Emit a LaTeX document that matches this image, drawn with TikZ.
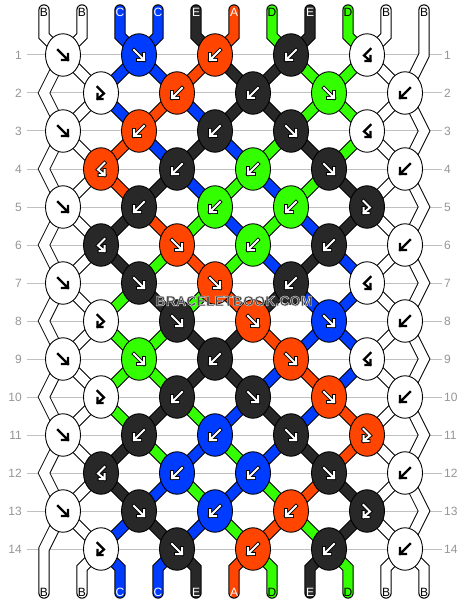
\documentclass[tikz,border=0pt]{standalone}
\usepackage{fontspec}
\setmainfont{Liberation Sans}
\usetikzlibrary{shapes.geometric}
\definecolor{colA}{RGB}{255,69,0}
\definecolor{colB}{RGB}{255,255,255}
\definecolor{colC}{RGB}{0,60,255}
\definecolor{colD}{RGB}{51,255,0}
\definecolor{colE}{RGB}{40,40,40}
\definecolor{labgray}{RGB}{150,150,150}
\definecolor{rulegray}{RGB}{192,192,192}
\definecolor{wmgray}{RGB}{72,72,72}

% string colours after each row
\expandafter\def\csname st1\endcsname{B,B,C,C,A,E,E,D,D,B,B}
\expandafter\def\csname st2\endcsname{B,B,C,A,C,E,E,D,D,B,B}
\expandafter\def\csname st3\endcsname{B,B,A,C,E,C,D,E,D,B,B}
\expandafter\def\csname st4\endcsname{B,B,A,E,C,D,C,D,E,B,B}
\expandafter\def\csname st5\endcsname{B,B,E,A,D,C,D,C,E,B,B}
\expandafter\def\csname st6\endcsname{B,B,E,D,A,D,C,E,C,B,B}
\expandafter\def\csname st7\endcsname{B,B,D,E,D,A,E,C,C,B,B}
\expandafter\def\csname st8\endcsname{B,B,D,D,E,E,A,C,C,B,B}
\expandafter\def\csname st9\endcsname{B,B,D,D,E,E,C,A,C,B,B}
\expandafter\def\csname st10\endcsname{B,B,D,E,D,C,E,C,A,B,B}
\expandafter\def\csname st11\endcsname{B,B,E,D,C,D,C,E,A,B,B}
\expandafter\def\csname st12\endcsname{B,B,E,C,D,C,D,A,E,B,B}
\expandafter\def\csname st13\endcsname{B,B,C,E,C,D,A,D,E,B,B}

% knots: colour / type
\expandafter\def\csname kn1\endcsname{B/f,C/f,A/b,E/b,B/bf}
\expandafter\def\csname kn2\endcsname{B/fb,A/b,E/b,D/f,B/b}
\expandafter\def\csname kn3\endcsname{B/f,A/b,E/b,E/f,B/bf}
\expandafter\def\csname kn4\endcsname{A/bf,E/b,D/b,E/f,B/b}
\expandafter\def\csname kn5\endcsname{B/f,E/b,D/b,D/b,E/fb}
\expandafter\def\csname kn6\endcsname{E/bf,A/f,D/b,E/b,B/b}
\expandafter\def\csname kn7\endcsname{B/f,E/f,A/f,E/b,B/bf}
\expandafter\def\csname kn8\endcsname{B/fb,E/f,A/f,C/f,B/b}
\expandafter\def\csname kn9\endcsname{B/f,D/f,E/b,A/f,B/bf}
\expandafter\def\csname kn10\endcsname{B/fb,E/b,E/f,A/f,B/b}
\expandafter\def\csname kn11\endcsname{B/f,E/b,C/b,E/f,A/fb}
\expandafter\def\csname kn12\endcsname{E/bf,C/b,C/b,E/f,B/b}
\expandafter\def\csname kn13\endcsname{B/f,E/f,C/b,A/b,E/fb}
\expandafter\def\csname kn14\endcsname{B/fb,E/f,A/b,E/b,B/b}

\newcommand\allbands{%
  % outer left string (always white)
  \draw[band=colB] (t-1) -- (tb-1) -- (k-1-1) -- (zl-2) -- (k-3-1) -- (zl-4) -- (k-5-1) -- (zl-6)
     -- (k-7-1) -- (zl-8) -- (k-9-1) -- (zl-10) -- (k-11-1) -- (zl-12) -- (k-13-1) -- (zl-14) -- (b-1);
  % outer right string (always white)
  \draw[band=colB] (t-11) -- (zr-1) -- (k-2-5) -- (zr-3) -- (k-4-5) -- (zr-5) -- (k-6-5) -- (zr-7)
     -- (k-8-5) -- (zr-9) -- (k-10-5) -- (zr-11) -- (k-12-5) -- (zr-13) -- (k-14-5) -- (bb-11) -- (b-11);
  % top tubes
  \foreach \colr [count=\posi] in {B,B,C,C,E,A,D,E,D,B,B}{%
    \ifnum\posi>1\relax\ifnum\posi<11\relax
      \pgfmathtruncatemacro\ja{(\posi+1)/2}%
      \draw[band=col\colr] (t-\posi) -- (tb-\posi) -- (k-1-\ja);
    \fi\fi}
  % between rows
  \foreach \rowi in {1,...,13}{%
    \pgfmathtruncatemacro\rown{\rowi+1}%
    \edef\cur{\csname st\rowi\endcsname}%
    \foreach \colr [count=\posi] in \cur {%
      \ifnum\posi>1\relax\ifnum\posi<11\relax
        \ifodd\rowi\relax
          \pgfmathtruncatemacro\ja{(\posi+1)/2}\pgfmathtruncatemacro\jb{\posi/2}%
        \else
          \pgfmathtruncatemacro\ja{\posi/2}\pgfmathtruncatemacro\jb{(\posi+1)/2}%
        \fi
        \draw[band=col\colr] (k-\rowi-\ja) -- (k-\rown-\jb);
      \fi\fi}}
  % bottom tubes
  \foreach \colr [count=\posi] in {B,B,C,C,E,A,D,E,D,B,B}{%
    \ifnum\posi>1\relax\ifnum\posi<11\relax
      \pgfmathtruncatemacro\jb{\posi/2}%
      \draw[band=col\colr] (k-14-\jb) -- (bb-\posi) -- (b-\posi);
    \fi\fi}
}

\tikzset{
  knot/.style={ellipse,draw=black,line width=0.9pt,fill=#1,minimum width=35pt,
    minimum height=42.5pt,inner sep=0pt},
  rowlab/.style={text=labgray,font=\fontsize{12}{12}\selectfont,inner sep=0pt},
  rowline/.style={draw=rulegray,line width=1pt},
  tubelab/.style={font=\fontsize{12}{12}\selectfont,inner sep=0pt},
  txt-A/.style={text=white}, txt-B/.style={text=black}, txt-C/.style={text=white},
  txt-D/.style={text=black}, txt-E/.style={text=white},
  glout-B/.style={draw=white,line width=3.6pt,line cap=rect},
  glin-B/.style={draw=black,line width=2.2pt,line cap=rect},
  glout-A/.style={draw=black,line width=3.8pt,line cap=rect},
  glin-A/.style={draw=white,line width=2pt,line cap=rect},
  glout-C/.style={glout-A}, glin-C/.style={glin-A},
  glout-D/.style={glout-A}, glin-D/.style={glin-A},
  glout-E/.style={glout-A}, glin-E/.style={glin-A},
  pics/gl-f/.style={code={
    \draw[glout-#1] (-5,-5) -- (5,5) (5,-1) -- (5,5) -- (-1,5);
    \draw[glin-#1] (-5,-5) -- (5,5) (5,-1) -- (5,5) -- (-1,5);}},
  pics/gl-b/.style={code={
    \draw[glout-#1] (5,-5) -- (-5,5) (-5,-1) -- (-5,5) -- (1,5);
    \draw[glin-#1] (5,-5) -- (-5,5) (-5,-1) -- (-5,5) -- (1,5);}},
  pics/gl-fb/.style={code={
    \draw[glout-#1] (-3.5,-6) -- (3,0.5) -- (-3.5,6) (-3.5,1) -- (-3.5,6) -- (1.5,6);
    \draw[glin-#1] (-3.5,-6) -- (3,0.5) -- (-3.5,6) (-3.5,1) -- (-3.5,6) -- (1.5,6);}},
  pics/gl-bf/.style={code={
    \draw[glout-#1] (3.5,-6) -- (-3,0.5) -- (3.5,6) (3.5,1) -- (3.5,6) -- (-1.5,6);
    \draw[glin-#1] (3.5,-6) -- (-3,0.5) -- (3.5,6) (3.5,1) -- (3.5,6) -- (-1.5,6);}},
  wmark/.style={font=\bfseries\fontsize{14.2}{14.2}\selectfont,inner sep=0pt}
}

\begin{document}
\begin{tikzpicture}[x=1pt,y=-1pt]
\useasboundingbox (0,0) rectangle (468,604);
\fill[white] (0,0) rectangle (468,604);

% knot centres and pass-by points
\foreach \rowi in {1,...,14}{%
  \pgfmathsetmacro\yy{55+38*(\rowi-1)}%
  \foreach \j in {1,...,5}{%
    \ifodd\rowi\relax \pgfmathsetmacro\xx{63+76*(\j-1)}\else \pgfmathsetmacro\xx{101+76*(\j-1)}\fi
    \coordinate (k-\rowi-\j) at (\xx,\yy);}
  \ifodd\rowi\relax \coordinate (zr-\rowi) at (424,\yy); \else \coordinate (zl-\rowi) at (44,\yy); \fi
}
% string ends
\foreach \posi in {1,...,11}{%
  \pgfmathsetmacro\xx{44+38*(\posi-1)}%
  \coordinate (t-\posi) at (\xx,10);
  \coordinate (tb-\posi) at (\xx,36);
  \coordinate (bb-\posi) at (\xx,568);
  \coordinate (b-\posi) at (\xx,593);
}

% row numbers and guide lines
\foreach \rowi in {1,...,14}{%
  \pgfmathsetmacro\yy{55+38*(\rowi-1)}%
  \node[rowlab,anchor=east] (ll-\rowi) at (22,\yy) {\rowi};
  \node[rowlab,anchor=west] (rl-\rowi) at (444,\yy) {\rowi};
  \draw[rowline] ([xshift=4.5pt]ll-\rowi.east) -- ([xshift=-2.5pt]rl-\rowi.west);
}

% strings: outlines, then fills
\tikzset{band/.style={draw=black,line width=11.4pt,line cap=round}}
\allbands
\tikzset{band/.style={draw=#1,line width=9.4pt,line cap=round}}
\allbands

% knots
\foreach \rowi in {1,...,14}{%
  \edef\cur{\csname kn\rowi\endcsname}%
  \foreach \kc/\kt [count=\j] in \cur {%
    \node[knot=col\kc] (n-\rowi-\j) at (k-\rowi-\j) {};
    \pic at (k-\rowi-\j) {gl-\kt=\kc};
  }}

% string letters
\foreach \colr [count=\posi] in {B,B,C,C,E,A,D,E,D,B,B}{%
  \pgfmathsetmacro\xx{44+38*(\posi-1)}%
  \node[tubelab,txt-\colr] (lt-\posi) at (\xx,12.5) {\colr};
  \node[tubelab,txt-\colr] (lb-\posi) at (\xx,592.5) {\colr};
}

% watermark: gray letters with a light outline (fill + stroke text mode)
\node[wmark,text=wmgray] (wm) at (234,301)
  {\special{pdf:literal direct 2 Tr 0.4 w 0.9 0.9 0.9 RG}BRACELETBOOK.COM\special{pdf:literal direct 0 Tr}};
\end{tikzpicture}
\end{document}
